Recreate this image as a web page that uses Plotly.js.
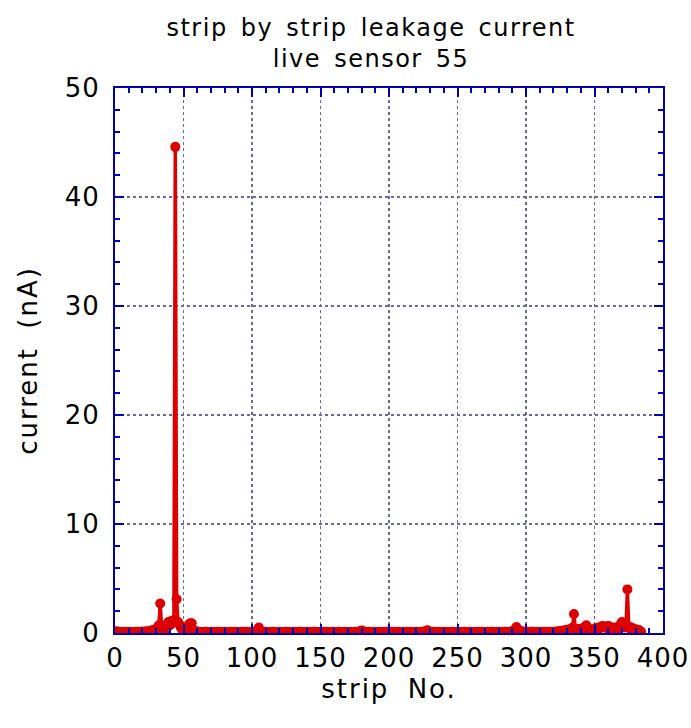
<!DOCTYPE html>
<html>
<head>
<meta charset="utf-8">
<script src="https://cdn.plot.ly/plotly-3.0.1.min.js"></script>
<style>
html,body{margin:0;padding:0;background:#fff;}
#chart{width:691px;height:728px;}
#chart .gtitle{letter-spacing:1.5px;word-spacing:4px;}
#chart .xtitle,#chart .ytitle{letter-spacing:2px;word-spacing:8px;}
#chart .xtick text,#chart .ytick text{letter-spacing:1px;}
</style>
</head>
<body>
<div id="chart"></div>
<script>
// leakage current (nA) for strips 1..384
const currentNA = [
0.15,0.12,0.10,0.10,0.12,0.10,0.10,0.11,0.10,0.10,0.12,0.10,0.10,0.10,0.11,0.10,
0.12,0.10,0.10,0.13,0.10,0.12,0.15,0.12,0.14,0.20,0.25,0.20,0.30,0.35,0.50,0.70,
2.70,0.60,0.40,0.50,0.35,0.80,1.00,0.70,1.10,0.90,1.20,44.6,3.10,1.00,0.80,0.50,
0.30,0.20,0.40,0.30,0.50,0.80,0.90,0.90,0.30,0.20,0.15,0.12,0.10,0.11,0.10,0.10,
0.10,0.10,0.11,0.10,0.10,0.10,0.12,0.10,0.10,0.10,0.11,0.10,0.10,0.10,0.10,0.11,
0.10,0.10,0.10,0.12,0.10,0.10,0.10,0.11,0.10,0.10,0.10,0.10,0.12,0.10,0.10,0.10,
0.11,0.10,0.10,0.10,0.12,0.10,0.15,0.30,0.50,0.20,0.12,0.10,0.10,0.11,0.10,0.10,
0.10,0.10,0.11,0.10,0.10,0.10,0.10,0.12,0.10,0.10,0.10,0.10,0.11,0.10,0.10,0.10,
0.10,0.10,0.12,0.10,0.10,0.10,0.11,0.10,0.10,0.10,0.10,0.10,0.12,0.10,0.10,0.10,
0.11,0.10,0.10,0.10,0.10,0.12,0.10,0.10,0.10,0.11,0.10,0.10,0.10,0.10,0.12,0.10,
0.10,0.10,0.11,0.10,0.10,0.10,0.10,0.12,0.10,0.10,0.10,0.11,0.10,0.10,0.10,0.12,
0.10,0.12,0.15,0.22,0.15,0.10,0.10,0.11,0.10,0.10,0.10,0.10,0.12,0.10,0.10,0.10,
0.11,0.10,0.10,0.10,0.10,0.12,0.10,0.10,0.10,0.11,0.10,0.10,0.10,0.10,0.12,0.10,
0.10,0.10,0.11,0.10,0.10,0.10,0.10,0.12,0.10,0.10,0.10,0.11,0.10,0.10,0.10,0.12,
0.10,0.13,0.18,0.25,0.16,0.12,0.10,0.11,0.10,0.10,0.10,0.10,0.12,0.10,0.10,0.10,
0.11,0.10,0.10,0.10,0.10,0.12,0.10,0.10,0.10,0.11,0.10,0.10,0.10,0.10,0.12,0.10,
0.10,0.10,0.11,0.10,0.10,0.10,0.10,0.12,0.10,0.10,0.10,0.11,0.10,0.10,0.10,0.12,
0.10,0.10,0.11,0.10,0.10,0.10,0.12,0.10,0.10,0.11,0.10,0.10,0.12,0.10,0.10,0.11,
0.12,0.15,0.20,0.30,0.55,0.30,0.15,0.12,0.15,0.12,0.10,0.11,0.12,0.10,0.10,0.12,
0.10,0.11,0.10,0.10,0.12,0.10,0.10,0.11,0.10,0.12,0.10,0.10,0.11,0.10,0.10,0.12,
0.10,0.12,0.15,0.12,0.15,0.20,0.18,0.25,0.20,0.30,0.25,0.35,0.30,0.50,1.75,0.40,
0.30,0.35,0.30,0.40,0.35,0.45,0.55,0.70,0.50,0.35,0.30,0.25,0.30,0.35,0.45,0.40,
0.50,0.45,0.60,0.65,0.60,0.50,0.45,0.65,0.60,0.45,0.30,0.40,0.50,0.35,0.30,0.60,
0.80,1.00,0.70,0.50,0.60,4.00,0.60,0.40,0.50,0.30,0.40,0.30,0.20,0.30,0.20,0.10
];
const firstStrip = 1;
const stripNo = currentNA.map((_, i) => firstStrip + i);

const titleLines = ["strip by strip leakage current", "live sensor 55"];
const xTitle = "strip No.";
const yTitle = "current (nA)";

const FONT = "DejaVu Sans, Verdana, sans-serif";
const axisBlue = "#0000b0";
const gridCol = "#6a6aa0";

const trace = {
  x: stripNo, y: currentNA,
  type: "scatter", mode: "lines+markers",
  line: {color: "#dd0000", width: 3.5},
  marker: {color: "#dd0000", size: 10},
  hoverinfo: "x+y"
};

const axisCommon = {
  showline: true, linecolor: axisBlue, linewidth: 2, mirror: "allticks",
  ticks: "inside", tickcolor: axisBlue, tickwidth: 2, ticklen: 9,
  showgrid: true, gridcolor: gridCol, gridwidth: 1.5, griddash: "dot",
  zeroline: false,
  tickfont: {family: FONT, size: 26, color: "#000"},
};

const layout = {
  width: 691, height: 728,
  margin: {l: 115, r: 28, t: 88, b: 95},
  paper_bgcolor: "#fff", plot_bgcolor: "#fff",
  showlegend: false,
  title: {text: titleLines.join("<br>"), font: {family: FONT, size: 24, color: "#000"},
          x: 0.537, xanchor: "center", y: 0.951, yanchor: "top"},
  xaxis: Object.assign({}, axisCommon, {
    range: [0, 400], dtick: 50, tick0: 0, ticklabelstandoff: 1,
    minor: {dtick: 10, ticks: "inside", ticklen: 5, tickcolor: axisBlue, tickwidth: 2, showgrid: false},
    title: {text: xTitle, font: {family: FONT, size: 26, color: "#000"}, standoff: 8}
  }),
  yaxis: Object.assign({}, axisCommon, {
    range: [0, 50], dtick: 10, tick0: 0, ticklabelstandoff: 8,
    minor: {dtick: 2, ticks: "inside", ticklen: 5, tickcolor: axisBlue, tickwidth: 2, showgrid: false},
    title: {text: yTitle, font: {family: FONT, size: 26, color: "#000"}, standoff: 22}
  })
};

Plotly.newPlot("chart", [trace], layout, {displayModeBar: false, staticPlot: true});
</script>
</body>
</html>
